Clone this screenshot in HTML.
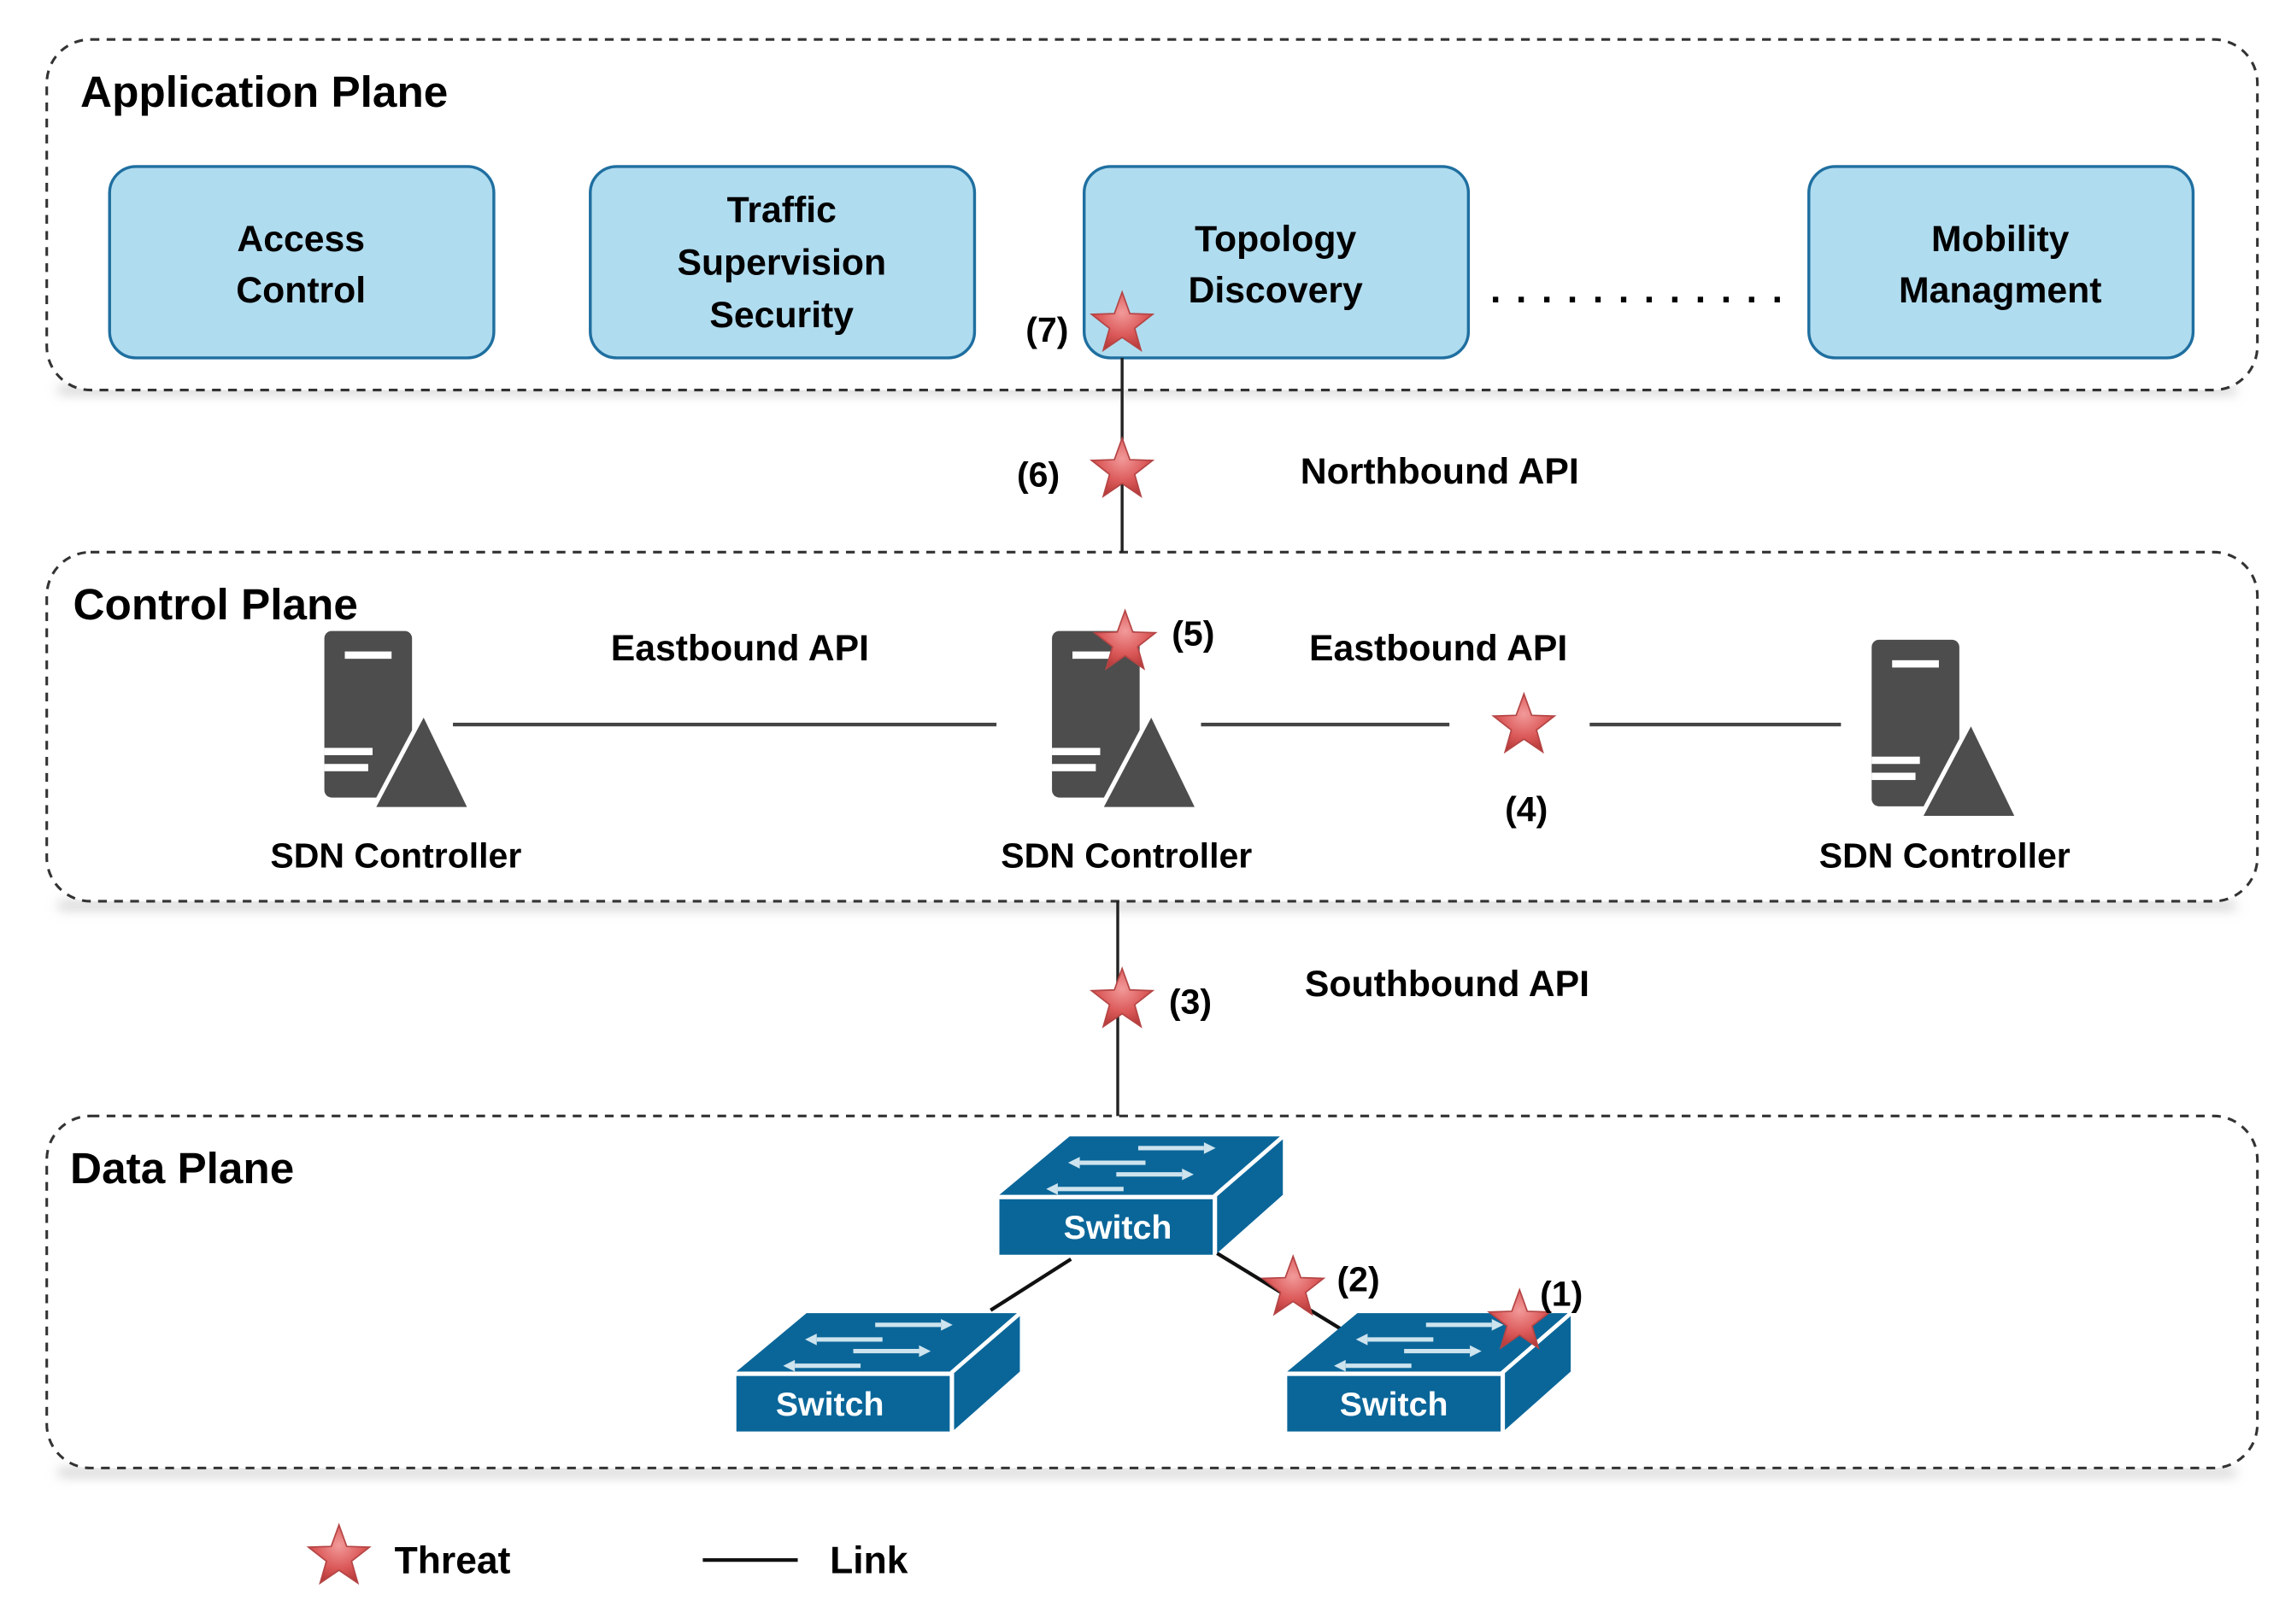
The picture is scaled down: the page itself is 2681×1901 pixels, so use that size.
<!DOCTYPE html>
<html><head><meta charset="utf-8"><style>
html,body{margin:0;padding:0;background:#fff;}
svg{display:block;}
text{font-family:"Liberation Sans","DejaVu Sans",sans-serif;font-weight:bold;fill:#000;}
</style></head><body>
<svg width="2681" height="1901" viewBox="0 0 1568 1111.8" preserveAspectRatio="none" xmlns="http://www.w3.org/2000/svg">
<defs>
<radialGradient id="sg" cx="50%" cy="35%" r="65%">
<stop offset="0" stop-color="#f29a9a"/><stop offset="0.6" stop-color="#dc5a5a"/><stop offset="1" stop-color="#b83a3a"/>
</radialGradient>
<path id="star" d="M0,-22 L5.3,-7.3 L20.9,-6.8 L8.6,2.8 L12.9,17.8 L0,9 L-12.9,17.8 L-8.6,2.8 L-20.9,-6.8 L-5.3,-7.3 Z" fill="url(#sg)" stroke="#b54545" stroke-width="1"/>
<g id="server">
<rect x="0" y="0" width="60" height="114" rx="5" fill="#4d4d4d"/>
<rect x="14" y="14" width="32" height="5" fill="#fff"/>
<rect x="0" y="80" width="33" height="5" fill="#fff"/>
<rect x="0" y="91" width="30" height="5" fill="#fff"/>
<polygon points="68,56 33,122 100,122" fill="#4d4d4d" stroke="#fff" stroke-width="3"/>
</g>
<g id="switch">
<polygon points="0,40 48,0 192,0 146,40" fill="#0a6699"/>
<polygon points="149,41 194,2 194,40 149,80" fill="#0a6699"/>
<rect x="0" y="43" width="146" height="38" fill="#0a6699"/>
<g stroke="#cde3ee" stroke-width="3">
<line x1="95" y1="8" x2="140" y2="8"/><line x1="55" y1="18" x2="100" y2="18"/>
<line x1="80" y1="26" x2="125" y2="26"/><line x1="40" y1="36" x2="85" y2="36"/>
</g>
<g fill="#cde3ee">
<polygon points="140,4 148,8 140,12"/><polygon points="55,14 47,18 55,22"/>
<polygon points="125,22 133,26 125,30"/><polygon points="40,32 32,36 40,40"/>
</g>
</g>
<filter id="sh" x="-5%" y="-5%" width="110%" height="120%"><feGaussianBlur stdDeviation="4"/></filter>
</defs>

<g fill="none" stroke="#bbb" stroke-width="4" filter="url(#sh)">
<path d="M40,267 L1530,267"/><path d="M40,620 L1530,620"/><path d="M40,1008 L1530,1008"/>
</g>
<g fill="#fff" stroke="#333" stroke-width="1.8" stroke-dasharray="6,5">
<rect x="32" y="27" width="1513" height="240" rx="30"/>
<rect x="32" y="378" width="1513" height="239" rx="30"/>
<rect x="32" y="764" width="1513" height="241" rx="30"/>
</g>

<text x="55" y="73" font-size="30">Application Plane</text>
<text x="50" y="424" font-size="30">Control Plane</text>
<text x="48" y="810" font-size="30">Data Plane</text>

<g fill="#b0dcef" stroke="#1f6fa0" stroke-width="2">
<rect x="75" y="114" width="263" height="131" rx="18"/>
<rect x="404" y="114" width="263" height="131" rx="18"/>
<rect x="742" y="114" width="263" height="131" rx="18"/>
<rect x="1238" y="114" width="263" height="131" rx="18"/>
</g>
<g font-size="25" text-anchor="middle">
<text x="206" y="172">Access</text><text x="206" y="207">Control</text>
<text x="535" y="152">Traffic</text><text x="535" y="188">Supervision</text><text x="535" y="224">Security</text>
<text x="873" y="172">Topology</text><text x="873" y="207">Discovery</text>
<text x="1369" y="172">Mobility</text><text x="1369" y="207">Managment</text>
</g>
<text x="1020" y="207" font-size="26" textLength="200">............</text>

<line x1="768" y1="245" x2="768" y2="378" stroke="#222" stroke-width="2"/>
<line x1="765" y1="617" x2="765" y2="764" stroke="#222" stroke-width="2"/>
<g stroke="#444" stroke-width="2.5">
<line x1="310" y1="496" x2="682" y2="496"/>
<line x1="822" y1="496" x2="992" y2="496"/>
<line x1="1088" y1="496" x2="1260" y2="496"/>
</g>
<g stroke="#111" stroke-width="2.5">
<line x1="733" y1="862" x2="678" y2="897"/>
<line x1="833" y1="858" x2="918" y2="910"/>
</g>

<use href="#server" x="222" y="432"/>
<use href="#server" x="720" y="432"/>
<use href="#server" x="1281" y="438"/>
<g font-size="24" text-anchor="middle">
<text x="271" y="594">SDN Controller</text>
<text x="771" y="594">SDN Controller</text>
<text x="1331" y="594">SDN Controller</text>
</g>
<g font-size="25">
<text x="418" y="452">Eastbound API</text>
<text x="896" y="452">Eastbound API</text>
<text x="890" y="331">Northbound API</text>
<text x="893" y="682">Southbound API</text>
</g>

<use href="#switch" x="684" y="778"/>
<use href="#switch" x="504" y="899"/>
<use href="#switch" x="881" y="899"/>
<g font-size="23" text-anchor="middle" style="fill:#fff">
<text x="765" y="848" style="fill:#fff">Switch</text>
<text x="568" y="969" style="fill:#fff">Switch</text>
<text x="954" y="969" style="fill:#fff">Switch</text>
</g>

<use href="#star" x="768" y="222"/>
<use href="#star" x="768" y="322"/>
<use href="#star" x="770" y="440"/>
<use href="#star" x="1043" y="497"/>
<use href="#star" x="768" y="685"/>
<use href="#star" x="885" y="882"/>
<use href="#star" x="1040" y="905"/>
<use href="#star" x="232" y="1066"/>

<g font-size="24">
<text x="702" y="234">(7)</text>
<text x="696" y="333">(6)</text>
<text x="802" y="442">(5)</text>
<text x="1030" y="562">(4)</text>
<text x="800" y="694">(3)</text>
<text x="915" y="884">(2)</text>
<text x="1054" y="894">(1)</text>
</g>

<text x="270" y="1077" font-size="26">Threat</text>
<line x1="481" y1="1068" x2="546" y2="1068" stroke="#111" stroke-width="2.5"/>
<text x="568" y="1077" font-size="26">Link</text>
</svg>
</body></html>
